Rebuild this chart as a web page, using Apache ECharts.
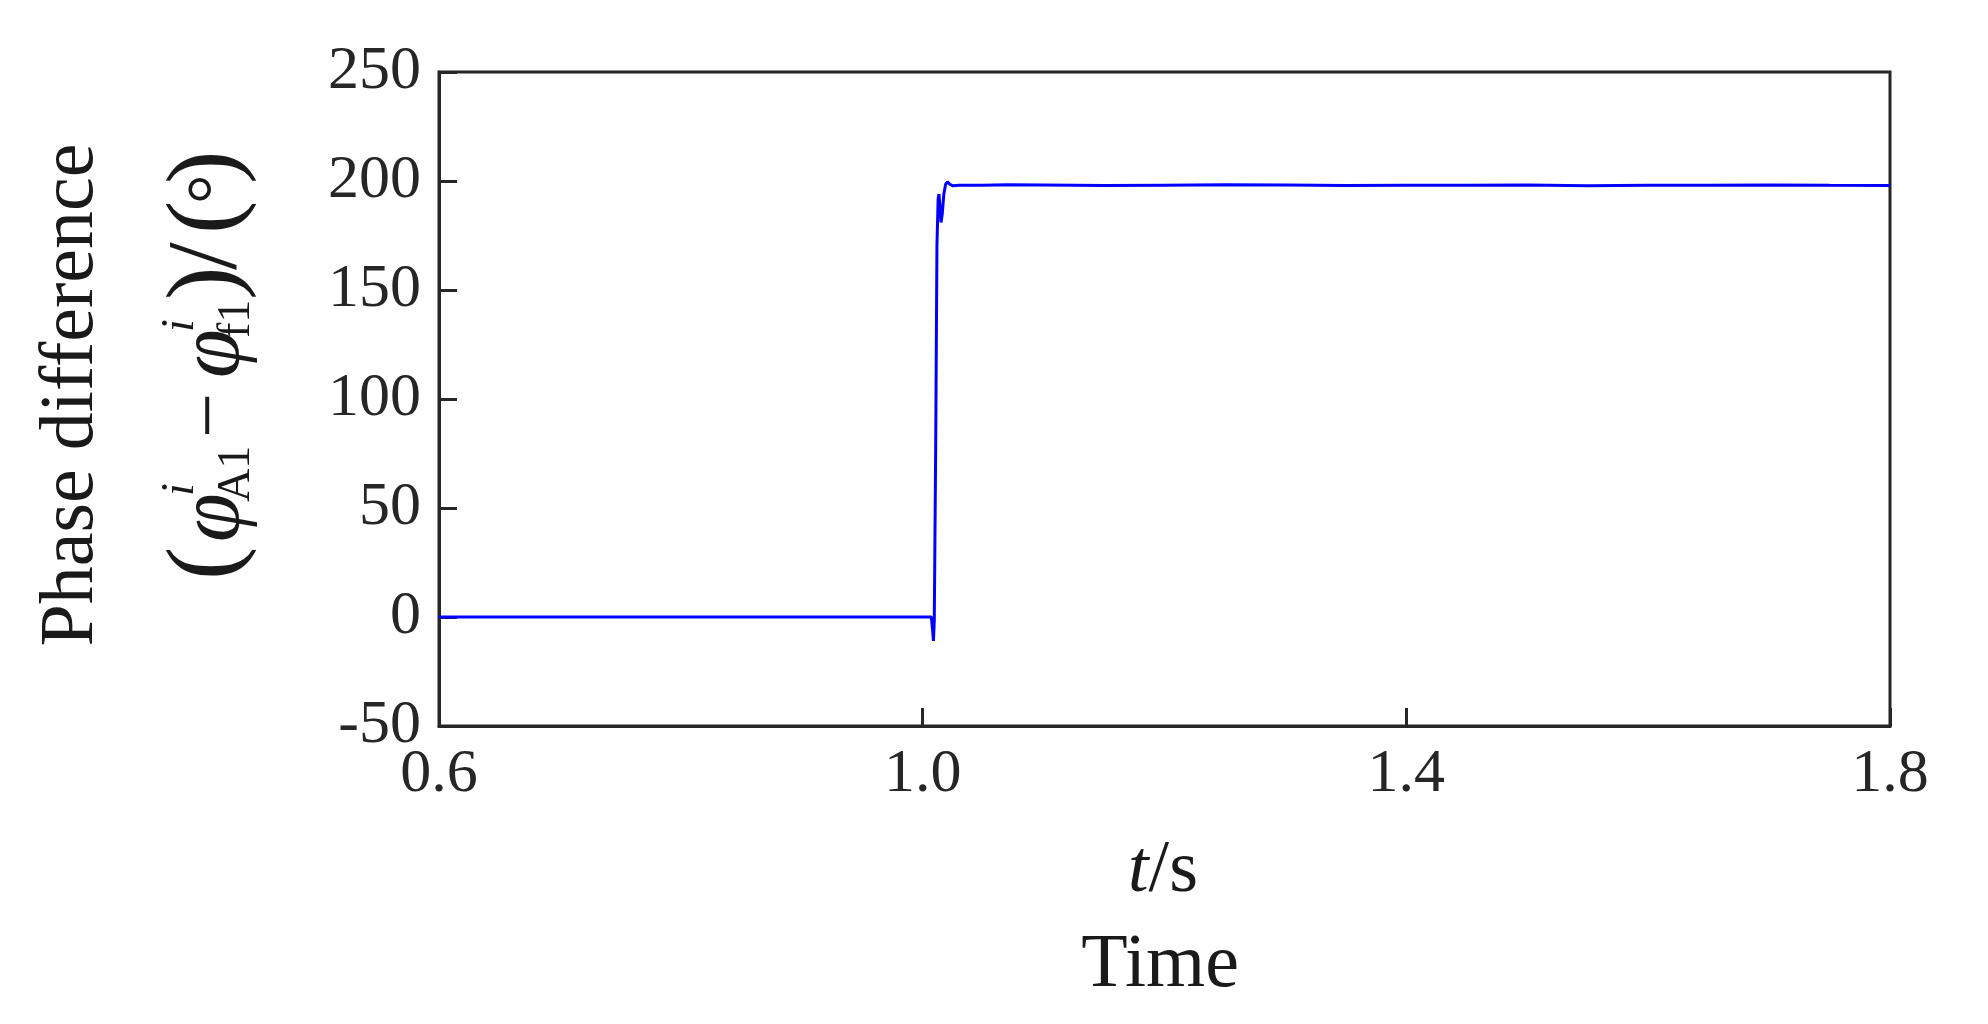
<!DOCTYPE html>
<html>
<head>
<meta charset="utf-8">
<script src="https://cdn.jsdelivr.net/npm/echarts@6/dist/echarts.min.js"></script>
<style>html,body{margin:0;padding:0;background:#fff}#c{width:1988px;height:1024px}</style>
</head>
<body>
<div id="c"></div>
<script>
// ---- data ----
const timeSec = [0.6, 0.8, 1.0, 1.0072, 1.0082, 1.0089, 1.0096, 1.0108, 1.0118, 1.0128, 1.0135, 1.0143, 1.0152, 1.0162, 1.0175, 1.019, 1.0205, 1.0225, 1.025, 1.03, 1.04, 1.05, 1.07, 1.1, 1.15, 1.2, 1.25, 1.3, 1.35, 1.4, 1.45, 1.5, 1.55, 1.6, 1.65, 1.7, 1.75, 1.8];
const phaseDiff = [0, 0, 0, 0, -6, -11, -2, 80, 170, 192, 194, 188, 181, 185, 194, 198.5, 199.6, 198.5, 197.8, 198.0, 198.1, 198.0, 198.3, 198.2, 197.9, 198.1, 198.3, 198.2, 197.9, 198.1, 198.0, 198.2, 197.8, 198.0, 198.1, 198.2, 198.0, 197.9];
const xTicks = [0.6, 1.0, 1.4, 1.8];
const yTicks = [-50, 0, 50, 100, 150, 200, 250];

const FONT = '"Liberation Serif", "Times New Roman", serif';
const TXT = '#1a1a1a';
const AX = '#262626';

const chart = echarts.init(document.getElementById('c'), null, {renderer: 'canvas'});

const F = 88, S = 46, P = 100;
function t(x, y, text, size, italic) {
  return { type: 'text', x: x, y: y, style: { text: text, fontSize: size, fontFamily: FONT, fontStyle: italic ? 'italic' : 'normal', fill: TXT, align: 'left', verticalAlign: 'middle', textAlign: 'left', textVerticalAlign: 'middle' } };
}

const option = {
  backgroundColor: '#ffffff',
  animation: false,
  grid: { left: 439, right: 98, top: 72, bottom: 298, show: true, borderColor: AX, borderWidth: 3, backgroundColor: 'transparent' },
  xAxis: {
    type: 'value', min: xTicks[0], max: xTicks[xTicks.length - 1], interval: 0.4,
    axisLine: { show: true, onZero: false, lineStyle: { color: AX, width: 3 } },
    axisTick: { show: true, inside: true, length: 18, lineStyle: { color: AX, width: 3 } },
    splitLine: { show: false },
    axisLabel: { margin: 18, fontSize: 62, fontFamily: FONT, color: AX, formatter: v => v.toFixed(1) }
  },
  yAxis: {
    type: 'value', min: yTicks[0], max: yTicks[yTicks.length - 1], interval: 50,
    axisLine: { show: true, onZero: false, lineStyle: { color: AX, width: 3 } },
    axisTick: { show: true, inside: true, length: 18, lineStyle: { color: AX, width: 3 } },
    splitLine: { show: false },
    axisLabel: { margin: 18, fontSize: 62, fontFamily: FONT, color: AX }
  },
  series: [{
    type: 'line', showSymbol: false, symbol: 'none',
    data: timeSec.map((x, i) => [x, phaseDiff[i]]),
    lineStyle: { color: '#0000ff', width: 3 },
    clip: true
  }],
  graphic: [
    { type: 'text', x: 72, y: 395, rotation: Math.PI / 2,
      style: { text: 'Phase difference', fontSize: 76, fontFamily: FONT, fill: TXT, align: 'center', verticalAlign: 'middle', textAlign: 'center', textVerticalAlign: 'middle' } },
    { type: 'group', x: 213, y: 580, rotation: Math.PI / 2,
      children: [
        t(0, -4, '(', P, false),
        t(38, 2, 'φ', F, true),
        t(84, -32, 'i', S, true),
        t(78, 24, 'A1', S, false),
        t(142, 0, '−', 80, false),
        t(202, 2, 'φ', F, true),
        t(248, -32, 'i', S, true),
        t(242, 24, 'f1', S, false),
        t(280, -4, ')', P, false),
        t(310, -4, '/', P, false),
        t(346, -4, '(', P, false),
        t(376, 6, '°', 74, false),
        t(396, -4, ')', P, false)
      ] },
    { type: 'text', x: 1163, y: 872,
      style: { text: '{it|t}/s', fontSize: 74, fontFamily: FONT, fill: TXT, align: 'center', verticalAlign: 'middle', textAlign: 'center', textVerticalAlign: 'middle',
        rich: { it: { fontStyle: 'italic', fontSize: 74, fontFamily: FONT, fill: TXT } } } },
    { type: 'text', x: 1160, y: 966,
      style: { text: 'Time', fontSize: 76, fontFamily: FONT, fill: TXT, align: 'center', verticalAlign: 'middle', textAlign: 'center', textVerticalAlign: 'middle' } }
  ]
};
chart.setOption(option);
</script>
</body>
</html>
